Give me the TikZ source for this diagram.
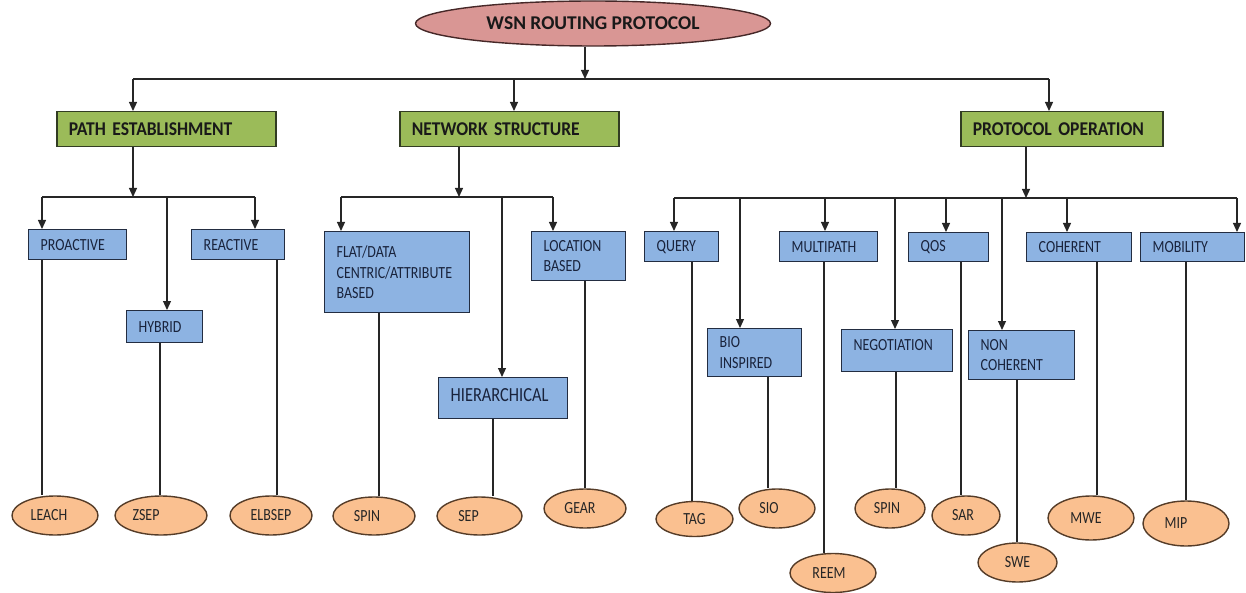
\documentclass[tikz,border=0pt]{standalone}
\usepackage{fontspec}
\setmainfont{Carlito}[FakeStretch=0.82]
\newfontfamily\catfont{Carlito}[FakeStretch=0.9, WordSpace=0.45]
\newfontfamily\titlefont{Carlito}
\usetikzlibrary{arrows.meta,shapes.geometric}

\definecolor{rootpink}{RGB}{217,150,148}
\definecolor{rootedge}{RGB}{70,40,40}
\definecolor{catgreen}{RGB}{155,187,89}
\definecolor{catedge}{RGB}{50,60,35}
\definecolor{subblue}{RGB}{141,179,226}
\definecolor{subedge}{RGB}{35,45,65}
\definecolor{subtext}{RGB}{25,35,60}
\definecolor{leaforange}{RGB}{250,192,144}
\definecolor{leafedge}{RGB}{85,60,40}

\tikzset{
  rootnode/.style={ellipse, draw=rootedge, fill=rootpink, line width=1.4pt,
    inner sep=0pt, font=\titlefont\bfseries\fontsize{19.5}{22}\selectfont, text=black!90},
  catbox/.style={rectangle, draw=catedge, fill=catgreen, line width=1.5pt,
    anchor=north west, align=left, inner xsep=12pt, inner ysep=0pt,
    font=\catfont\bfseries\fontsize{19.5}{22}\selectfont, text=black!90},
  subbox/.style={rectangle, draw=subedge, fill=subblue, line width=1.4pt,
    anchor=north west, align=left, inner xsep=12pt, inner ysep=0pt,
    font=\fontsize{17}{20.5}\selectfont, text=subtext},
  leaf/.style={ellipse, draw=leafedge, fill=leaforange, line width=1.4pt,
    inner sep=0pt, font=\fontsize{17}{19}\selectfont, text=black!85},
  % moves the label of a leaf sideways by half the given amount
  nudge/.style={execute at begin node={\hspace*{#1}}},
  link/.style={line width=1.2pt, draw=black!85},
  arr/.style={link, -{Triangle[width=8pt,length=9pt]}}
}

\begin{document}
\begin{tikzpicture}[x=1pt,y=-1pt]
\useasboundingbox (0,0) rectangle (1246,593);

% root
\node[rootnode, minimum width=355pt, minimum height=45pt] (root) at (593,23.5) {WSN ROUTING PROTOCOL};

% main categories
\node[catbox, text width=195pt, minimum height=35pt] (pe) at (56,111) {PATH ESTABLISHMENT};
\node[catbox, text width=195pt, minimum height=35pt] (ns) at (399,111) {NETWORK STRUCTURE};
\node[catbox, text width=178pt, minimum height=35pt] (po) at (960,111) {PROTOCOL OPERATION};

% path establishment classes
\node[subbox, text width=74pt, minimum height=30pt] (pro) at (28,229) {PROACTIVE};
\node[subbox, text width=52pt, minimum height=32pt] (hyb) at (126,310) {HYBRID};
\node[subbox, text width=69pt, minimum height=30pt] (rea) at (191,229) {REACTIVE};

% network structure classes
\node[subbox, text width=121pt, minimum height=81pt] (flat) at (324,231) {FLAT/DATA\\CENTRIC/ATTRIBUTE\\BASED};
\node[subbox, text width=105pt, minimum height=41pt, text depth=6pt, font=\fontsize{20}{22}\selectfont] (hier) at (438,377) {HIERARCHICAL};
\node[subbox, text width=70pt, minimum height=49pt] (loc) at (531,231) {LOCATION\\BASED};

% protocol operation classes
\node[subbox, text width=50pt, minimum height=30pt] (qry) at (644,231) {QUERY};
\node[subbox, text width=70pt, minimum height=48pt] (bio) at (707,328) {BIO\\INSPIRED};
\node[subbox, text width=74pt, minimum height=30pt] (mul) at (779,231) {MULTIPATH};
\node[subbox, text width=87pt, minimum height=42pt, text depth=12pt] (neg) at (841,329) {NEGOTIATION};
\node[subbox, text width=56pt, minimum height=29pt] (qos) at (908,232) {QOS};
\node[subbox, text width=82pt, minimum height=49pt] (nonc) at (968,330) {NON\\COHERENT};
\node[subbox, text width=81pt, minimum height=29pt] (coh) at (1026,232) {COHERENT};
\node[subbox, text width=80pt, minimum height=29pt] (mob) at (1140,232) {MOBILITY};

% protocols
\node[leaf, nudge=-12pt, minimum width=86pt, minimum height=39pt] (leach) at (55,515.5) {LEACH};
\node[leaf, nudge=-30pt, minimum width=92pt, minimum height=39pt] (zsep) at (161,515.5) {ZSEP};
\node[leaf, minimum width=82pt, minimum height=39pt] (elb) at (271,515.5) {ELBSEP};
\node[leaf, nudge=-14pt, minimum width=82pt, minimum height=38pt] (spina) at (374,516) {SPIN};
\node[leaf, nudge=-22pt, minimum width=85pt, minimum height=38pt] (sep) at (479.5,516) {SEP};
\node[leaf, nudge=-10pt, minimum width=82pt, minimum height=39pt] (gear) at (585,508.5) {GEAR};
\node[leaf, minimum width=77pt, minimum height=35pt] (tag) at (694.5,519) {TAG};
\node[leaf, nudge=-16pt, minimum width=76pt, minimum height=39pt] (sio) at (777,508.5) {SIO};
\node[leaf, nudge=-8pt, minimum width=86pt, minimum height=39pt] (reem) at (833,573) {REEM};
\node[leaf, nudge=-6pt, minimum width=70pt, minimum height=39pt] (spinb) at (890,508.5) {SPIN};
\node[leaf, nudge=-6pt, minimum width=68pt, minimum height=39pt] (sar) at (966,515.5) {SAR};
\node[leaf, minimum width=79pt, minimum height=39pt] (swe) at (1017.5,562.5) {SWE};
\node[leaf, nudge=-10pt, minimum width=86pt, minimum height=44pt] (mwe) at (1091,518) {MWE};
\node[leaf, nudge=-20pt, minimum width=86pt, minimum height=45pt] (mip) at (1186,523.5) {MIP};

% top bus
\coordinate (b0) at (585,79);
\coordinate (b1) at (133,79);
\coordinate (b2) at (514,79);
\coordinate (b3) at (1049,79);
\draw[arr] (root.south -| b0) -- (b0);
\draw[link] (b1) -- (b3);
\draw[arr] (b1) -- (pe.north -| b1);
\draw[arr] (b2) -- (ns.north -| b2);
\draw[arr] (b3) -- (po.north -| b3);

% path establishment bus
\coordinate (p0) at (133,197);
\coordinate (p1) at (42,197);
\coordinate (p2) at (167,197);
\coordinate (p3) at (255,197);
\draw[arr] (pe.south -| p0) -- (p0);
\draw[link] (p1) -- (p3);
\draw[arr] (p1) -- (pro.north -| p1);
\draw[arr] (p2) -- (hyb.north -| p2);
\draw[arr] (p3) -- (rea.north -| p3);

% network structure bus
\coordinate (n0) at (459,197);
\coordinate (n1) at (341,197);
\coordinate (n2) at (502,197);
\coordinate (n3) at (553,197);
\draw[arr] (ns.south -| n0) -- (n0);
\draw[link] (n1) -- (n3);
\draw[arr] (n1) -- (flat.north -| n1);
\draw[arr] (n2) -- (hier.north -| n2);
\draw[arr] (n3) -- (loc.north -| n3);

% protocol operation bus
\coordinate (o0) at (1026,198);
\coordinate (o1) at (674,198);
\coordinate (o2) at (740,198);
\coordinate (o3) at (825,198);
\coordinate (o4) at (895,198);
\coordinate (o5) at (946,198);
\coordinate (o6) at (1002,198);
\coordinate (o7) at (1067,198);
\coordinate (o8) at (1237,198);
\draw[arr] (po.south -| o0) -- (o0);
\draw[link] (o1) -- (o8);
\draw[arr] (o1) -- (qry.north -| o1);
\draw[arr] (o2) -- (bio.north -| o2);
\draw[arr] (o3) -- (mul.north -| o3);
\draw[arr] (o4) -- (neg.north -| o4);
\draw[arr] (o5) -- (qos.north -| o5);
\draw[arr] (o6) -- (nonc.north -| o6);
\draw[arr] (o7) -- (coh.north -| o7);
\draw[arr] (o8) -- (mob.north -| o8);

% drops from classes to protocols
\coordinate (d1) at (42,0);
\coordinate (d2) at (160,0);
\coordinate (d3) at (277,0);
\coordinate (d4) at (379,0);
\coordinate (d5) at (493,0);
\coordinate (d6) at (585,0);
\coordinate (d7) at (692,0);
\coordinate (d8) at (768,0);
\coordinate (d9) at (824,0);
\coordinate (d10) at (896,0);
\coordinate (d11) at (961,0);
\coordinate (d12) at (1017,0);
\coordinate (d13) at (1097,0);
\coordinate (d14) at (1186,0);
\draw[link] (pro.south -| d1) -- (leach.north -| d1);
\draw[link] (hyb.south -| d2) -- (zsep.north -| d2);
\draw[link] (rea.south -| d3) -- (elb.north -| d3);
\draw[link] (flat.south -| d4) -- (spina.north -| d4);
\draw[link] (hier.south -| d5) -- (sep.north -| d5);
\draw[link] (loc.south -| d6) -- (gear.north -| d6);
\draw[link] (qry.south -| d7) -- (tag.north -| d7);
\draw[link] (bio.south -| d8) -- (sio.north -| d8);
\draw[link] (mul.south -| d9) -- (reem.north -| d9);
\draw[link] (neg.south -| d10) -- (spinb.north -| d10);
\draw[link] (qos.south -| d11) -- (sar.north -| d11);
\draw[link] (nonc.south -| d12) -- (swe.north -| d12);
\draw[link] (coh.south -| d13) -- (mwe.north -| d13);
\draw[link] (mob.south -| d14) -- (mip.north -| d14);
\end{tikzpicture}
\end{document}
